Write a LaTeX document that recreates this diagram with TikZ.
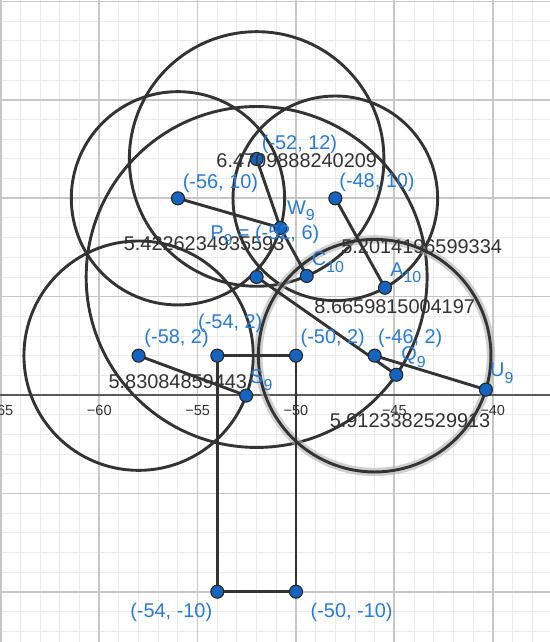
\documentclass[tikz,border=0pt]{standalone}
\usepackage{fontspec}
\setmainfont{Liberation Sans}
\definecolor{ptblue}{HTML}{1565C0}
\definecolor{lblblue}{HTML}{2B7BD3}
\definecolor{ink}{HTML}{333333}
\newcommand{\gsub}[1]{\raisebox{-5pt}{\fontsize{11.5}{12}\selectfont #1}}
\tikzset{
  minorgrid/.style={draw=black!8, line width=0.7pt},
  majorgrid/.style={draw=black!22, line width=1.2pt},
  axisline/.style={draw=black!65, line width=1.3pt},
  circ/.style={draw=ink, line width=2.1pt},
  halo/.style={draw=black!30, line width=6pt, opacity=0.6},
  seg/.style={draw=ink, line width=2.1pt, line cap=round},
  pt/.style={circle, fill=ptblue, draw=black!85, line width=0.8pt, inner sep=0pt, minimum size=9.4pt},
  lbl/.style={text=lblblue, font=\fontsize{14.4}{17}\selectfont, inner sep=0pt},
  num/.style={text=ink, font=\fontsize{14.4}{17}\selectfont, inner sep=0pt},
  ticklbl/.style={text=black!80, font=\fontsize{10.5}{12}\selectfont, inner sep=0pt, anchor=base}
}
\begin{document}
\begin{tikzpicture}[x=0.5cm,y=0.5cm]
\useasboundingbox (-65.048,-12.557) rectangle (-37.087,20.082);
\begin{scope}
\clip (-65.048,-12.557) rectangle (-37.087,20.082);
\fill[white] (-66,-13) rectangle (-36,21);
\draw[minorgrid] (-66,-13) grid[step=1] (-36,21);
\draw[majorgrid] (-66,-13) grid[step=5] (-36,21);
\draw[axisline] (-66,0) -- (-36,0);
\end{scope}
% tick labels
\foreach \v in {65,60,55,50,45,40}
  \node[ticklbl] (t\v) at (-\v,-1.03) {−\v};
% centres and points
\coordinate (K1) at (-52,12);
\coordinate (K2) at (-56,10);
\coordinate (K3) at (-48,10);
\coordinate (K4) at (-58,2);
\coordinate (K5) at (-46,2);
\coordinate (P9) at (-52,6);
\coordinate (R1) at (-54,2);
\coordinate (R2) at (-50,2);
\coordinate (R3) at (-54,-10);
\coordinate (R4) at (-50,-10);
\path (K2) ++(-16.1:5.4226235) coordinate (W9);
\path (K1) ++(-66.8:6.4709888) coordinate (C10);
\path (K3) ++(-60.97:5.2014197) coordinate (A10);
\path (K4) ++(-20.37:5.8308486) coordinate (S9);
\path (K5) ++(-16.97:5.9123383) coordinate (U9);
\path (P9) ++(-35.0:8.6659815) coordinate (Q9);
% circles
\draw[circ] (K1) circle (6.4709888);
\draw[circ] (K2) circle (5.4226235);
\draw[circ] (K3) circle (5.2014197);
\draw[circ] (K4) circle (5.8308486);
\draw[circ] (P9) circle (8.6659815);
\draw[halo] (K5) circle (5.9123383);
\draw[circ] (K5) circle (5.9123383);
% segments
\draw[seg] (K2) -- (W9);
\draw[seg] (K1) -- (W9) -- (C10);
\draw[seg] (K3) -- (A10);
\draw[seg] (K4) -- (S9);
\draw[seg] (P9) -- (Q9);
\draw[seg] (K5) -- (U9);
\draw[seg, line join=round] (R1) -- (R2) -- (R4) -- (R3) -- cycle;
% points
\foreach \p in {K1,K2,K3,K4,K5,P9,R1,R2,R3,R4,W9,C10,A10,S9,U9,Q9}
  \node[pt] (d\p) at (\p) {};
% labels
\node[lbl, anchor=base] (l1) at (-49.82,12.50) {(-52, 12)};
\node[num, anchor=base] (n1) at (-49.96,11.56) {6.4709888240209};
\node[lbl, anchor=base] (l2) at (-53.84,10.48) {(-56, 10)};
\node[lbl, anchor=base] (l3) at (-45.88,10.57) {(-48, 10)};
\node[lbl, anchor=base west] (lW) at (-50.46,9.20) {W\gsub{9}};
\node[num, anchor=base] (n2) at (-54.67,7.37) {5.4226234935593};
\node[lbl, anchor=base west] (lP) at (-54.37,7.93) {P\gsub{9} = (-52, 6)};
\node[num, anchor=base] (n3) at (-43.61,7.18) {5.2014196599334};
\node[lbl, anchor=base west] (lC) at (-49.20,6.57) {C\gsub{10}};
\node[lbl, anchor=base west] (lA) at (-45.22,6.05) {A\gsub{10}};
\node[num, anchor=base] (n4) at (-44.98,4.16) {8.6659815004197};
\node[lbl, anchor=base] (l4) at (-56.07,2.60) {(-58, 2)};
\node[lbl, anchor=base] (l5) at (-53.34,3.37) {(-54, 2)};
\node[lbl, anchor=base] (l6) at (-48.13,2.60) {(-50, 2)};
\node[lbl, anchor=base] (l7) at (-44.19,2.60) {(-46, 2)};
\node[lbl, anchor=base west] (lQ) at (-44.66,1.74) {Q\gsub{9}};
\node[lbl, anchor=base west] (lU) at (-40.14,0.93) {U\gsub{9}};
\node[num, anchor=base west] (n5) at (-59.54,0.32) {5.83084859443};
\node[lbl, anchor=base west] (lS) at (-52.34,0.59) {S\gsub{9}};
\node[num, anchor=base] (n6) at (-44.20,-1.67) {5.9123382529913};
\node[lbl, anchor=base] (l8) at (-56.34,-11.29) {(-54, -10)};
\node[lbl, anchor=base] (l9) at (-47.17,-11.29) {(-50, -10)};
\end{tikzpicture}
\end{document}
